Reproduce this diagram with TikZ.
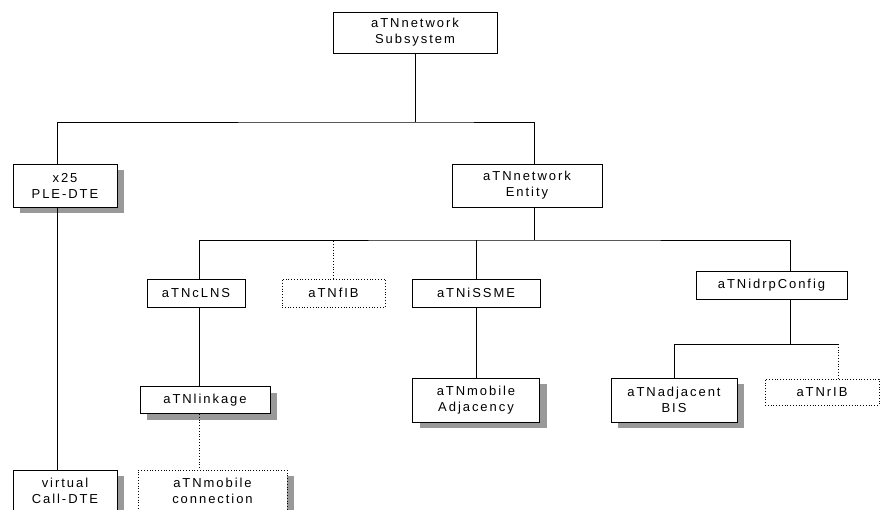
\documentclass[tikz,border=0pt]{standalone}
\usepackage{fontspec}
\newfontfamily\objfont[LetterSpace=15]{Liberation Sans}
\usetikzlibrary{shadows}
\tikzset{objnode/.style={draw, line width=0.8pt, fill=white, align=center, inner sep=0pt, font=\objfont\fontsize{13}{16}\selectfont}}
\tikzset{shadnode/.style={objnode, general shadow={fill=black!40, shadow xshift=7pt, shadow yshift=-6pt}}}
\tikzset{optnode/.style={objnode, dotted}}
\tikzset{optshadnode/.style={optnode, general shadow={fill=black!40, shadow xshift=7pt, shadow yshift=-6pt}}}
\tikzset{link/.style={line width=0.8pt}}
\tikzset{optlink/.style={link, dotted}}
\begin{document}
\begin{tikzpicture}[x=1pt, y=-1pt]
\useasboundingbox (0,0) rectangle (880,510);
\clip (0,0) rectangle (880,510);
\node (sub) [objnode, minimum width=164, minimum height=41] at (415,32.5) {aTNnetwork\\Subsystem};
\node (x25) [shadnode, minimum width=104, minimum height=43] at (65,185.5) {x25\\PLE-DTE};
\node (ent) [objnode, minimum width=150, minimum height=43] at (527,185.5) {aTNnetwork\\Entity};
\node (clns) [objnode, minimum width=98, minimum height=28] at (196,293) {aTNcLNS};
\node (fib) [optnode, minimum width=103, minimum height=28] at (333.5,293) {aTNfIB};
\node (issme) [objnode, minimum width=128, minimum height=28] at (476,293) {aTNiSSME};
\node (idrp) [objnode, minimum width=151, minimum height=28] at (771.5,285) {aTNidrpConfig};
\node (link) [shadnode, minimum width=130, minimum height=27] at (205,400) {aTNlinkage};
\node (madj) [shadnode, minimum width=127, minimum height=44] at (476,400) {aTNmobile\\Adjacency};
\node (adj) [shadnode, minimum width=126, minimum height=44] at (674,400) {aTNadjacent\\BIS};
\node (rib) [optnode, minimum width=114, minimum height=26] at (822,392) {aTNrIB};
\node (vc) [shadnode, minimum width=104, minimum height=42] at (65,491) {virtual\\Call-DTE};
\node (mcon) [optshadnode, minimum width=149, minimum height=42] at (212.5,491) {aTNmobile\\connection};

\coordinate (j0) at (415,122);
\coordinate (j1) at (534,240);
\coordinate (j2) at (790,344);
\coordinate (j3) at (838,344);

\draw[link] (sub) -- (j0);
\draw[link] ([xshift=-8pt]x25.north) |- (j0) -| ([xshift=7pt]ent.north);
\draw[link] ([xshift=-8pt]x25.south) -- ([xshift=-8pt]vc.north);
\draw[link] ([xshift=7pt]ent.south) -- (j1);
\draw[link] ([xshift=3pt]clns.north) |- (j1) -| ([xshift=18.5pt]idrp.north);
\draw[link] (issme.north) -- (issme.north |- j1);
\draw[optlink] (fib.north) -- (fib.north |- j1);
\draw[link] ([xshift=3pt]clns.south) -- ([xshift=-6pt]link.north);
\draw[optlink] ([xshift=-6pt]link.south) -- ([xshift=-13.5pt]mcon.north);
\draw[link] (issme.south) -- (madj.north);
\draw[link] ([xshift=18.5pt]idrp.south) -- (j2);
\draw[link] (adj.north) |- (j3);
\draw[optlink] (j3) -- ([xshift=16pt]rib.north);
\end{tikzpicture}
\end{document}
